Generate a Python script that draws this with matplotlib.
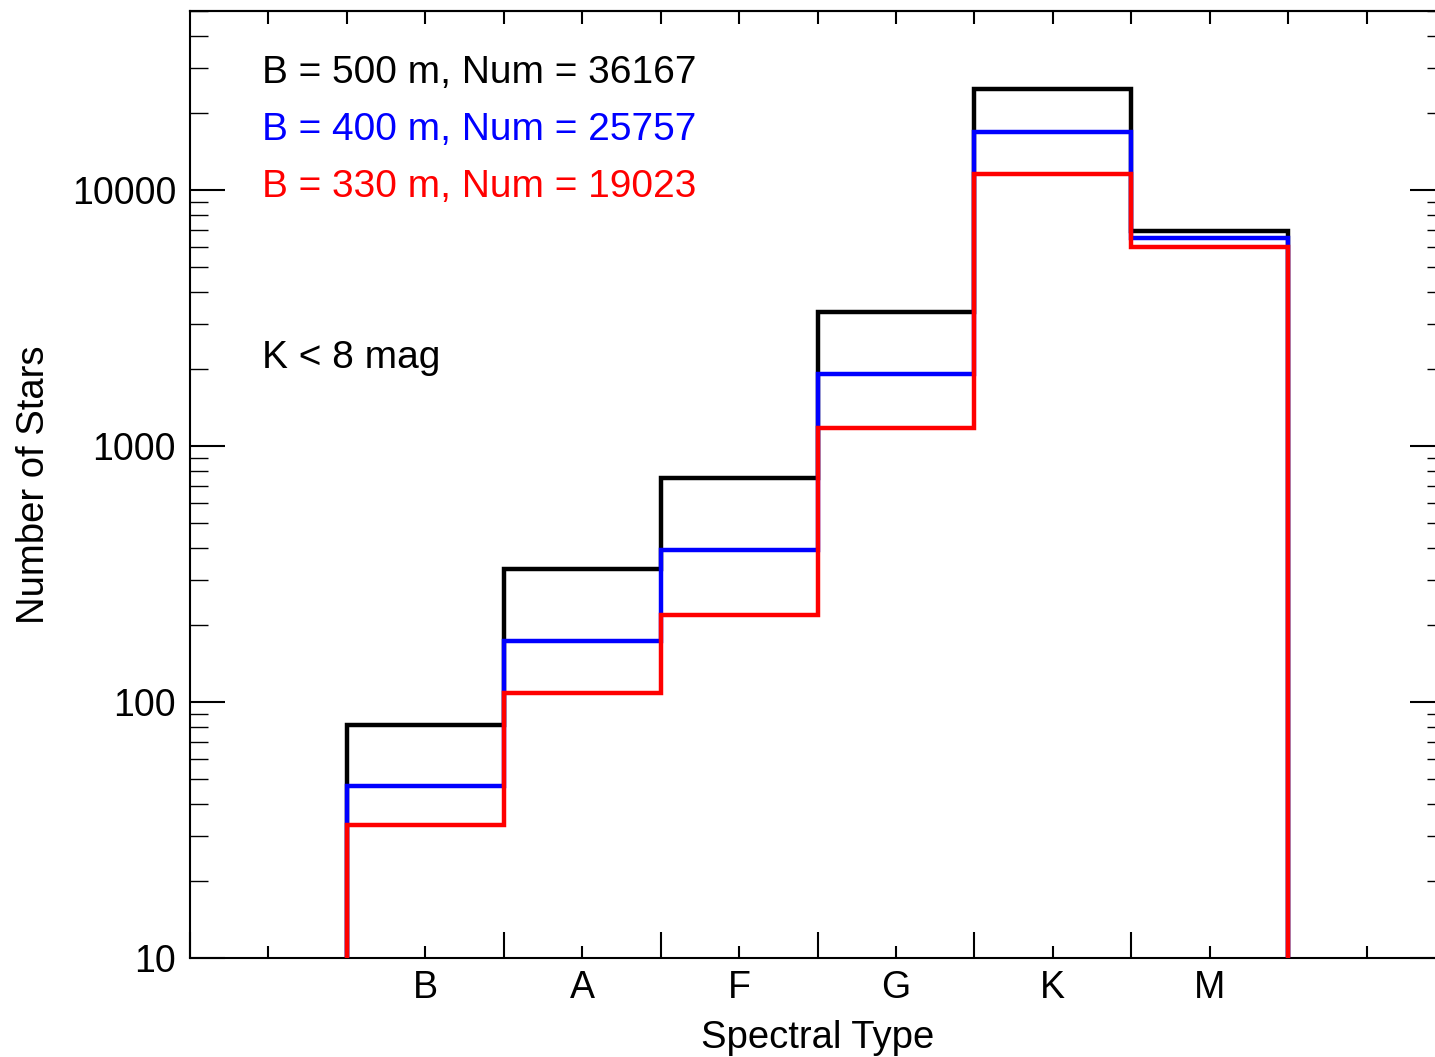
import numpy as np
import matplotlib
matplotlib.use('Agg')
import matplotlib.pyplot as plt
from matplotlib.ticker import FixedLocator, NullFormatter, LogLocator

plt.rcParams['font.family'] = ['Liberation Sans', 'DejaVu Sans']

# spectral types and star counts per bin
types = ['B', 'A', 'F', 'G', 'K', 'M']
n_500 = [81, 331, 750, 3340, 24800, 6920]
n_400 = [47, 173, 392, 1910, 16850, 6500]
n_330 = [33, 108, 219, 1175, 11550, 5990]
labels = ['B = 500 m, Num = 36167', 'B = 400 m, Num = 25757', 'B = 330 m, Num = 19023']
colors = ['black', '#0000ff', '#ff0000']

fig = plt.figure(figsize=(14.35, 10.57), dpi=100)
ax = fig.add_axes([190/1435, 99/1057, 1255/1435, 947/1057])

x = np.arange(len(types))
edges = np.arange(len(types) + 1) - 0.5
for vals, c in zip([n_500, n_400, n_330], colors):
    ax.stairs(vals, edges, baseline=10, color=c, lw=3.2, zorder=3)

ax.set_yscale('log')
ax.set_ylim(10, 5e4)
ax.set_xlim(-1.5, 6.5)

for s in ax.spines.values():
    s.set_linewidth(1.5)

# x ticks: labels at bin centres, long ticks at bin edges
ax.set_xticks(np.arange(-1, 7))
ax.set_xticklabels([''] + types + [''])
ax.xaxis.set_minor_locator(FixedLocator(np.arange(-1.5, 7.0, 1.0)))
ax.tick_params(axis='x', which='major', direction='in', length=9, width=1.5,
               labelsize=27, pad=9, top=False)
ax.tick_params(axis='x', which='minor', direction='in', length=19, width=1.5, top=False)

# top axis: short ticks every half unit
axt = ax.secondary_xaxis('top')
axt.set_xticks(np.arange(-1.0, 6.5, 0.5))
axt.tick_params(direction='in', length=9, width=1.5, labeltop=False)
axt.spines['top'].set_linewidth(1.5)

ax.set_yticks([10, 100, 1000, 10000])
ax.set_yticklabels(['10', '100', '1000', '10000'])
ax.yaxis.set_minor_locator(LogLocator(base=10, subs=np.arange(2, 10)))
ax.yaxis.set_minor_formatter(NullFormatter())
ax.tick_params(axis='y', which='major', direction='in', length=25, width=1.5,
               labelsize=27, right=True, pad=10)
ax.tick_params(axis='y', which='minor', direction='in', length=13, width=1.0, right=True)

ax.set_xlabel('Spectral Type', fontsize=27.5, labelpad=10)
ax.set_ylabel('Number of Stars', fontsize=27.5, labelpad=14)

ty = [73, 130, 187]
for lab, c, yy in zip(labels, colors, ty):
    fig.text(262/1435, 1 - yy/1057, lab, color=c, fontsize=28, va='center', ha='left')
fig.text(262/1435, 1 - 358/1057, 'K < 8 mag', color='black', fontsize=28, va='center', ha='left')

fig.savefig('out.png', dpi=100)
